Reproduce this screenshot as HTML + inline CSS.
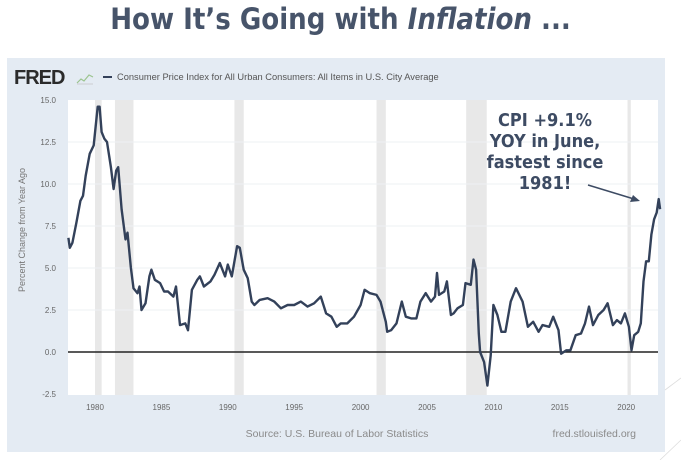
<!DOCTYPE html>
<html><head><meta charset="utf-8">
<style>
html,body{margin:0;padding:0;background:#fff;}
body{width:681px;height:460px;position:relative;overflow:hidden;font-family:"Liberation Sans",sans-serif;}
.title{position:absolute;left:0;top:0;width:681px;text-align:center;font-size:29px;line-height:38px;color:#47546a;font-weight:bold;font-family:"DejaVu Sans Condensed","DejaVu Sans","Liberation Sans",sans-serif;}
svg{position:absolute;left:0;top:0;}
</style></head>
<body>
<div class="title">How It’s Going with <i>Inflation</i> ...</div>
<svg id="s" width="681" height="460" xmlns="http://www.w3.org/2000/svg">
<rect x="7" y="58" width="658" height="394" fill="#e4ebf3"/>
<rect x="68" y="100" width="590" height="295" fill="#ffffff"/>
<g id="rec" fill="#e8e8e8"></g>
<g id="grid" stroke="#eef0f3" stroke-width="1"></g>
<line x1="68" y1="352" x2="658" y2="352" stroke="#222" stroke-width="1.6"/>
<polyline id="ln" fill="none" stroke="#33415a" stroke-width="2.4" stroke-linejoin="round"/>
<g font-size="8" fill="#666" text-anchor="end" id="ylab"></g>
<g font-size="8" fill="#666" text-anchor="middle" id="xlab"></g>
<text x="25" y="230" font-size="9" fill="#777" text-anchor="middle" transform="rotate(-90 25 230)">Percent Change from Year Ago</text>
<text x="14" y="84" font-size="20" font-weight="bold" fill="#2b2b2b" letter-spacing="-1">FRED</text>
<polyline points="77,83 81,79 84,81 89,75 93,77" fill="none" stroke="#9bc48f" stroke-width="1.2"/>
<polyline points="77,84 93,84" fill="none" stroke="#bbb" stroke-width="0.6"/>
<line x1="103" y1="77" x2="112" y2="77" stroke="#33415a" stroke-width="2"/>
<text x="117" y="80" font-size="9.3" fill="#555">Consumer Price Index for All Urban Consumers: All Items in U.S. City Average</text>
<text x="337" y="437" font-size="10.5" fill="#8a8a8a" text-anchor="middle">Source: U.S. Bureau of Labor Statistics</text>
<text x="636" y="437" font-size="10.5" fill="#8a8a8a" text-anchor="end">fred.stlouisfed.org</text>
<g font-size="18" fill="#3d4b63" text-anchor="middle" font-weight="bold" font-family="DejaVu Sans Condensed,DejaVu Sans,Liberation Sans,sans-serif">
<text x="545" y="126">CPI +9.1%</text>
<text x="545" y="147">YOY in June,</text>
<text x="545" y="168">fastest since</text>
<text x="545" y="189">1981!</text>
</g>
<line x1="588" y1="185" x2="634" y2="199" stroke="#3d4b63" stroke-width="1.5"/>
<polygon points="640,201 630,202 633,195" fill="#3d4b63"/>
<line x1="665" y1="390" x2="681" y2="378" stroke="#ddd" stroke-width="0.8"/>
<line x1="660" y1="460" x2="681" y2="440" stroke="#ddd" stroke-width="0.8"/>
</svg>
<script>
var X=function(y){return 95+(y-1980)*13.28},Y=function(v){return 352-v*16.8};
var ns="http://www.w3.org/2000/svg";
function el(p,t,a,txt){var e=document.createElementNS(ns,t);for(var k in a)e.setAttribute(k,a[k]);if(txt)e.textContent=txt;document.getElementById(p).appendChild(e);}
[[1980,1980.5],[1981.5,1982.9],[1990.5,1991.2],[2001.2,2001.9],[2007.95,2009.5],[2020.1,2020.35]].forEach(function(r){el("rec","rect",{x:X(r[0]),y:100,width:X(r[1])-X(r[0]),height:295});});
for(var v=-2.5;v<=15;v+=2.5){if(v!=0&&v!=-2.5&&v!=15)el("grid","line",{x1:68,x2:658,y1:Y(v),y2:Y(v)});el("ylab","text",{x:56,y:Y(v)+3},v.toFixed(1));}
for(var y=1980;y<=2020;y+=5)el("xlab","text",{x:X(y),y:410},""+y);
var d=[1978.0,6.8,1978.1,6.2,1978.3,6.5,1978.6,7.7,1978.9,9.0,1979.1,9.3,1979.3,10.5,1979.6,11.8,1979.9,12.3,1980.2,14.6,1980.35,14.6,1980.5,13.1,1980.7,12.7,1980.9,12.5,1981.2,11.0,1981.4,9.7,1981.6,10.8,1981.75,11.0,1982.0,8.5,1982.3,6.7,1982.45,7.1,1982.7,5.0,1982.9,3.8,1983.2,3.5,1983.35,3.9,1983.5,2.5,1983.8,2.9,1984.1,4.5,1984.25,4.9,1984.5,4.3,1984.9,4.1,1985.2,3.6,1985.5,3.6,1985.9,3.3,1986.1,3.9,1986.4,1.6,1986.8,1.7,1987.0,1.3,1987.3,3.7,1987.7,4.3,1987.9,4.5,1988.2,3.9,1988.7,4.2,1989.0,4.6,1989.4,5.3,1989.8,4.5,1990.0,5.2,1990.3,4.5,1990.7,6.3,1990.9,6.2,1991.2,4.9,1991.5,4.4,1991.8,3.0,1992.0,2.8,1992.4,3.1,1993.0,3.2,1993.5,3.0,1994.0,2.6,1994.5,2.8,1995.0,2.8,1995.5,3.0,1996.0,2.7,1996.5,2.9,1997.0,3.3,1997.4,2.3,1997.8,2.1,1998.2,1.5,1998.5,1.7,1999.0,1.7,1999.5,2.1,2000.0,2.8,2000.3,3.7,2000.7,3.5,2001.2,3.4,2001.5,3.0,2001.9,1.8,2002.0,1.2,2002.3,1.3,2002.7,1.7,2003.1,3.0,2003.4,2.1,2003.8,2.0,2004.2,2.0,2004.5,3.0,2004.9,3.5,2005.3,3.0,2005.6,3.3,2005.75,4.7,2005.9,3.4,2006.3,3.6,2006.5,4.2,2006.8,2.2,2007.0,2.3,2007.3,2.6,2007.7,2.8,2007.9,4.1,2008.3,4.0,2008.5,5.5,2008.7,4.9,2008.9,1.1,2009.0,0.0,2009.3,-0.6,2009.55,-2.0,2009.8,-0.2,2010.0,2.8,2010.3,2.2,2010.6,1.2,2010.9,1.2,2011.3,3.0,2011.7,3.8,2012.2,3.0,2012.6,1.5,2013.0,1.8,2013.4,1.2,2013.7,1.6,2014.2,1.5,2014.5,2.1,2014.9,1.3,2015.1,-0.1,2015.5,0.1,2015.8,0.1,2016.2,1.0,2016.6,1.1,2016.9,1.7,2017.2,2.7,2017.5,1.6,2017.9,2.2,2018.3,2.5,2018.6,2.9,2019.0,1.6,2019.3,1.9,2019.6,1.7,2019.9,2.3,2020.2,1.5,2020.4,0.1,2020.6,1.0,2020.9,1.2,2021.1,1.7,2021.3,4.2,2021.5,5.4,2021.7,5.4,2021.9,7.0,2022.1,7.9,2022.3,8.3,2022.45,9.1,2022.55,8.5];
var p=[];for(var i=0;i<d.length;i+=2)p.push(X(d[i]).toFixed(1)+","+Y(d[i+1]).toFixed(1));
document.getElementById("ln").setAttribute("points",p.join(" "));
</script>
</body></html>
